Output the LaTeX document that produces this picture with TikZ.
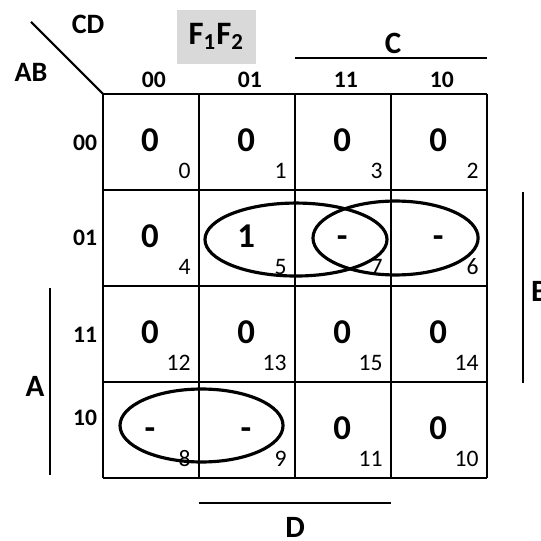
\documentclass[tikz,border=0pt]{standalone}
\usepackage{fontspec}
\setmainfont{Carlito}
\begin{document}
\begin{tikzpicture}[x=1.6cm, y=-1.6cm,
    gridline/.style={line width=1pt},
    barline/.style={line width=1pt},
    loop/.style={line width=1.5pt},
    cellval/.style={font=\fontsize{16.5}{18}\selectfont\bfseries, inner sep=0pt, anchor=base},
    cellidx/.style={font=\fontsize{11.2}{12}\selectfont, inner sep=0pt, anchor=base east},
    headlbl/.style={font=\fontsize{11.2}{12}\selectfont\bfseries, inner sep=0pt},
    varlbl/.style={font=\fontsize{14.7}{16}\selectfont\bfseries, inner sep=0pt}]
  \useasboundingbox (-1.073,-0.979) rectangle (4.552,4.656);
  % map outline and cells
  \foreach \k in {0,...,4}{
    \draw[gridline] (\k,0) -- (\k,4);
    \draw[gridline] (0,\k) -- (4,\k);
  }
  \draw[gridline] (-0.75,-0.75) -- (0,0);
  \node[headlbl, font=\fontsize{13.3}{14}\selectfont\bfseries] (cd) at (-0.156,-0.729) {CD};
  \node[headlbl, font=\fontsize{13.3}{14}\selectfont\bfseries] (ab) at (-0.75,-0.229) {AB};
  % function name on a gray patch
  \fill[gray!30] (0.771,-0.875) rectangle (1.594,-0.313);
  \node[varlbl, font=\fontsize{15.5}{16}\selectfont\bfseries] (fname) at (1.18,-0.6) {F\textsubscript{1}F\textsubscript{2}};
  % column and row headers
  \foreach \c/\code in {0/00, 1/01, 2/11, 3/10}
    \node[headlbl] (col\c) at (\c+0.53,-0.146) {\code};
  \foreach \r/\y/\code in {0/0.51/00, 1/1.5/01, 2/2.51/11, 3/3.375/10}
    \node[headlbl] (row\r) at (-0.1875,\y) {\code};
  % values and minterm numbers
  \foreach \c/\r/\v/\m in {0/0/0/0, 1/0/0/1, 2/0/0/3, 3/0/0/2,
                           0/1/0/4, 1/1/1/5, 2/1/-/7, 3/1/-/6,
                           0/2/0/12, 1/2/0/13, 2/2/0/15, 3/2/0/14,
                           0/3/-/8, 1/3/-/9, 2/3/0/11, 3/3/0/10}{
    \node[cellval] (val\m) at (\c+0.49,\r+0.6) {\v};
    \node[cellidx] (idx\m) at (\c+0.917,\r+0.885) {\m};
  }
  % groupings
  \draw[loop] (2.01,1.516) ellipse [x radius=0.948, y radius=0.38];
  \draw[loop] (3.047,1.5) ellipse [x radius=0.86, y radius=0.385];
  \draw[loop] (1.026,3.453) ellipse [x radius=0.849, y radius=0.38];
  % variable bars
  \coordinate (cL) at (2,-0.375);  \coordinate (cR) at (4,-0.375);
  \draw[barline] (cL) -- (cR);
  \node[varlbl] (clbl) at (3.02,-0.531) {C};
  \coordinate (bT) at (4.375,1.02); \coordinate (bB) at (4.375,3.01);
  \draw[barline] (bT) -- (bB);
  \node[varlbl] (blbl) at (4.55,2.06) {B};
  \coordinate (aT) at (-0.552,2.02); \coordinate (aB) at (-0.552,3.97);
  \draw[barline] (aT) -- (aB);
  \node[varlbl] (albl) at (-0.708,3.05) {A};
  \coordinate (dL) at (1,4.26); \coordinate (dR) at (3,4.26);
  \draw[barline] (dL) -- (dR);
  \node[varlbl] (dlbl) at (2.0,4.52) {D};
\end{tikzpicture}
\end{document}
